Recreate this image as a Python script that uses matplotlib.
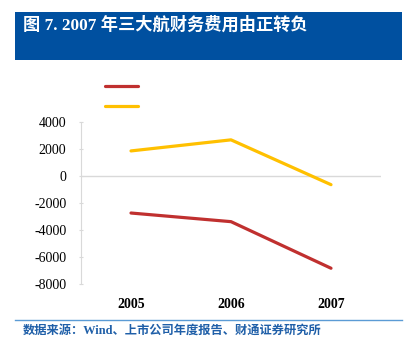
import matplotlib.pyplot as plt
from matplotlib.lines import Line2D
from matplotlib.patches import Rectangle

plt.rcParams['font.family'] = ['Liberation Serif', 'Noto Sans CJK SC', 'DejaVu Sans']

# data
years = ['2005', '2006', '2007']
red_series = [-2720, -3360, -6810]
yellow_series = [1880, 2700, -620]
yticks = [4000, 2000, 0, -2000, -4000, -6000, -8000]

red = '#C0302F'
yellow = '#FFC000'
grey = '#D9D9D9'

W, H = 407, 353
fig = plt.figure(figsize=(W / 100, H / 100), dpi=100)

# header band
fig.patches.append(Rectangle((14.7 / W, 1 - 60 / H), (401.5 - 14.7) / W, (60 - 12.3) / H,
                             transform=fig.transFigure, facecolor='#0050A0',
                             edgecolor='none', zorder=0))
fig.text(23 / W, 1 - 25.5 / H, '图 7. 2007 年三大航财务费用由正转负', color='white',
         fontsize=12.4, fontweight='bold', va='center', ha='left')

# footer
fig.add_artist(Line2D([14.7 / W, 401.5 / W], [1 - 320 / H, 1 - 320 / H],
                      transform=fig.transFigure, color='#5B9BD5', lw=1))
fig.text(23 / W, 1 - 330.5 / H, '数据来源：Wind、上市公司年度报告、财通证券研究所',
         color='#1F5FA8', fontsize=8.8, fontweight='bold', va='center', ha='left')

ax = fig.add_axes([81 / W, 1 - 284.3 / H, 300 / W, (284.3 - 122.3) / H])
x = range(len(years))
l1, = ax.plot(x, red_series, color=red, lw=2.3, solid_capstyle='round')
l2, = ax.plot(x, yellow_series, color=yellow, lw=2.3, solid_capstyle='round')
ax.axhline(0, color=grey, lw=1, zorder=0)

ax.set_xlim(-0.5, 2.5)
ax.set_ylim(-8000, 4000)
ax.set_xticks(list(x))
ax.set_xticklabels(years, fontweight='bold', fontsize=10)
ax.set_yticks(yticks)
ax.set_yticklabels([str(v) for v in yticks], fontsize=10)
ax.tick_params(axis='x', length=0, pad=10)
ax.tick_params(axis='y', length=3, direction='inout', color=grey, pad=9)
for s in ['top', 'right', 'bottom']:
    ax.spines[s].set_visible(False)
ax.spines['left'].set_color(grey)

fig.legend([l1, l2], ['', ''], loc='upper left',
           bbox_to_anchor=(92 / W, 1 - 68 / H), frameon=False,
           handlelength=2.4, labelspacing=0.55, handletextpad=0.3)

fig.savefig('out.png', dpi=100)
